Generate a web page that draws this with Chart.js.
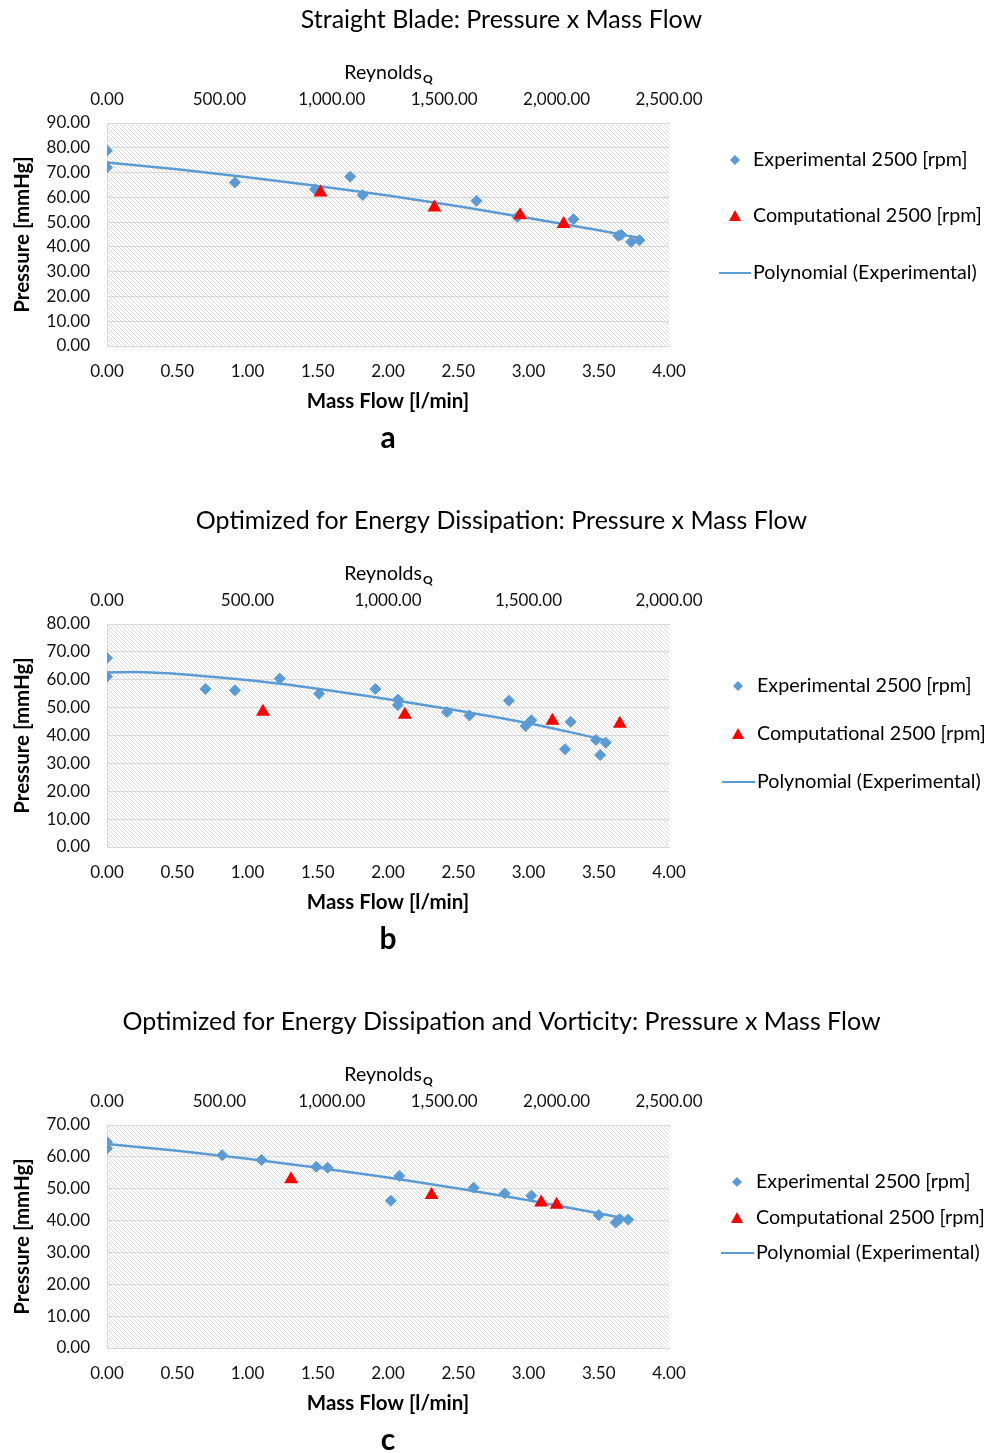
<!DOCTYPE html>
<html lang="en">
<head>
<meta charset="UTF-8">
<title>Pressure x Mass Flow</title>
<script src="https://cdn.jsdelivr.net/npm/chart.js@4"></script>
<style>
  body { margin: 0; background: #fff; }
  .box { position: absolute; left: 0; width: 1003px; }
  canvas { display: block; }
</style>
</head>
<body>
<div class="box" style="top:0;height:501px"><canvas id="chartA"></canvas></div>
<div class="box" style="top:501px;height:501px"><canvas id="chartB"></canvas></div>
<div class="box" style="top:1002px;height:451px"><canvas id="chartC"></canvas></div>

<script>
// ---- values ----
const seriesNames = ['Experimental 2500 [rpm]', 'Computational 2500 [rpm]', 'Polynomial (Experimental)'];

// (a) straight blade
const straightExpFlow      = [0.00, 0.00, 0.91, 1.48, 1.73, 1.82, 2.63, 2.92, 3.32, 3.64, 3.66, 3.73, 3.79];
const straightExpPressure  = [78.8, 72.1, 66.0, 63.3, 68.3, 60.9, 58.6, 52.1, 51.2, 44.5, 44.9, 42.0, 42.7];
const straightCompFlow     = [1.52, 2.33, 2.94, 3.25];
const straightCompPressure = [62.0, 55.9, 52.8, 49.2];
const straightTrendFlow     = [0.00, 0.50, 1.00, 1.50, 2.00, 2.50, 3.00, 3.50, 3.79];
const straightTrendPressure = [74.1, 71.3, 68.1, 64.6, 60.7, 56.4, 51.7, 46.7, 43.6];

// (b) optimized for energy dissipation
const energyExpFlow      = [0.00, 0.00, 0.70, 0.91, 1.23, 1.51, 1.91, 2.07, 2.07, 2.42, 2.58, 2.86, 2.98, 3.02, 3.26, 3.30, 3.48, 3.51, 3.55];
const energyExpPressure  = [67.8, 61.2, 56.7, 56.2, 60.4, 55.0, 56.7, 52.9, 50.9, 48.4, 47.2, 52.5, 43.4, 45.5, 35.1, 44.9, 38.4, 33.0, 37.4];
const energyCompFlow     = [1.11, 2.12, 3.17, 3.65];
const energyCompPressure = [48.5, 47.4, 45.3, 44.2];
const energyTrendFlow     = [0.00, 0.20, 0.50, 0.90, 1.25, 1.50, 1.90, 2.40, 2.98, 3.28, 3.54];
const energyTrendPressure = [62.6, 62.8, 62.1, 60.4, 58.5, 56.8, 53.8, 49.8, 44.6, 41.4, 38.4];

// (c) optimized for energy dissipation and vorticity
const vortExpFlow      = [0.00, 0.00, 0.82, 1.10, 1.49, 1.57, 2.08, 2.02, 2.61, 2.83, 3.02, 3.50, 3.62, 3.65, 3.71];
const vortExpPressure  = [64.7, 62.6, 60.5, 59.0, 56.9, 56.6, 54.0, 46.2, 50.3, 48.5, 47.8, 41.7, 39.4, 40.5, 40.3];
const vortCompFlow     = [1.31, 2.31, 3.09, 3.20];
const vortCompPressure = [53.0, 48.0, 45.7, 45.0];
const vortTrendFlow     = [0.00, 0.50, 1.00, 1.50, 2.00, 2.50, 3.00, 3.50, 3.71];
const vortTrendPressure = [64.0, 61.9, 59.4, 56.6, 53.5, 50.1, 46.4, 42.3, 40.4];

// axis ranges / labels
const chartTitles  = ['Straight Blade: Pressure x Mass Flow',
                      'Optimized for Energy Dissipation: Pressure x Mass Flow',
                      'Optimized for Energy Dissipation and Vorticity: Pressure x Mass Flow'];
const panelLetters = ['a', 'b', 'c'];
const pressureMax  = [90, 80, 70];
const reynoldsMax  = [2500, 2000, 2500];

const BLUE = '#5b9bd5';
const RED = '#ff0000';
const GRID = '#d9d9d9';
Chart.defaults.font.family = 'Lato';
Chart.defaults.color = '#111';

function pts(xs, ys) {
  return xs.map((x, i) => ({ x: x, y: ys[i] }));
}

// light diagonal hatch behind the plot, like the excel plot area
const hatchPlugin = {
  id: 'hatch',
  beforeDraw(chart) {
    const { ctx, chartArea: a } = chart;
    const tile = document.createElement('canvas');
    tile.width = 4; tile.height = 4;
    const g = tile.getContext('2d');
    g.fillStyle = '#ffffff';
    g.fillRect(0, 0, 4, 4);
    g.fillStyle = '#dadada';
    for (let i = 0; i < 4; i++) g.fillRect(i, i, 1, 1);
    ctx.save();
    ctx.fillStyle = ctx.createPattern(tile, 'repeat');
    ctx.fillRect(a.left, a.top, a.right - a.left, a.bottom - a.top);
    ctx.restore();
  }
};

// "Reynolds" with subscript Q above the secondary axis
const reynoldsPlugin = {
  id: 'reynolds',
  afterDraw(chart) {
    const { ctx, chartArea: a } = chart;
    ctx.save();
    ctx.fillStyle = '#000';
    ctx.textBaseline = 'middle';
    ctx.font = '19.5px Lato';
    const w1 = ctx.measureText('Reynolds').width;
    ctx.font = 'bold 12px Lato';
    const w2 = ctx.measureText('Q').width;
    const x0 = (a.left + a.right) / 2 - (w1 + w2) / 2;
    const y = a.top - 50;
    ctx.font = '19.5px Lato';
    ctx.fillText('Reynolds', x0, y);
    ctx.font = 'bold 12px Lato';
    ctx.fillText('Q', x0 + w1 + 1, y + 6);
    ctx.restore();
  }
};

// legend on the right, drawn by hand so the plot area keeps its size
const sideLegend = {
  id: 'sideLegend',
  afterDraw(chart, args, opts) {
    const { ctx } = chart;
    ctx.save();
    ctx.font = '19.7px Lato';
    ctx.textBaseline = 'middle';
    const mx = opts.markerX, tx = opts.textX, r = opts.rows;
    // diamond
    ctx.fillStyle = BLUE;
    ctx.beginPath();
    ctx.moveTo(mx - 5, r[0]); ctx.lineTo(mx, r[0] - 5); ctx.lineTo(mx + 5, r[0]); ctx.lineTo(mx, r[0] + 5);
    ctx.closePath(); ctx.fill();
    // triangle
    ctx.fillStyle = RED;
    ctx.beginPath();
    ctx.moveTo(mx, r[1] - 6); ctx.lineTo(mx + 6, r[1] + 5); ctx.lineTo(mx - 6, r[1] + 5);
    ctx.closePath(); ctx.fill();
    // line
    ctx.strokeStyle = BLUE; ctx.lineWidth = 2;
    ctx.beginPath(); ctx.moveTo(mx - 16, r[2]); ctx.lineTo(tx - 2, r[2]); ctx.stroke();
    ctx.fillStyle = '#000';
    seriesNames.forEach((s, i) => ctx.fillText(s, tx, r[i]));
    ctx.restore();
  }
};

function makeChart(id, idx, exp, comp, trend, legendPos, bottomPad) {
  return new Chart(document.getElementById(id), {
    type: 'scatter',
    data: {
      datasets: [
        {
          label: seriesNames[2], data: trend, showLine: true, pointRadius: 0,
          borderColor: BLUE, borderWidth: 2.5, cubicInterpolationMode: 'monotone', order: 3
        },
        {
          label: seriesNames[0], data: exp, pointStyle: 'rectRot', pointRadius: 5.5,
          backgroundColor: BLUE, borderColor: BLUE, borderWidth: 1, order: 2
        },
        {
          label: seriesNames[1], data: comp, pointStyle: 'triangle', pointRadius: 8,
          backgroundColor: RED, borderColor: RED, borderWidth: 0, order: 1
        }
      ]
    },
    options: {
      responsive: true,
      maintainAspectRatio: false,
      animation: false,
      layout: { padding: { top: 0, left: 0, right: 0, bottom: bottomPad } },
      plugins: {
        legend: { display: false },
        tooltip: { enabled: false },
        title: {
          display: true, text: chartTitles[idx], color: '#000',
          font: { size: 25, weight: 'normal' }, padding: { top: 5, bottom: 0 }
        },
        subtitle: {
          display: true, position: 'bottom', fullSize: false, text: panelLetters[idx], color: '#000',
          font: { size: 30, weight: 'bold', lineHeight: 0.8 }, padding: { top: 12, bottom: 0 }
        },
        sideLegend: legendPos
      },
      scales: {
        x: {
          type: 'linear', position: 'bottom', min: 0, max: 4,
          grid: { display: false, drawTicks: false, tickLength: 0 },
          border: { display: true, color: GRID },
          ticks: { stepSize: 0.5, padding: 15, font: { size: 17 }, callback: v => v.toFixed(2) },
          title: { display: true, text: 'Mass Flow [l/min]', color: '#000', font: { size: 20.5, weight: 'bold' }, padding: 0 },
          afterFit(s) { s.height = 68; }
        },
        x2: {
          type: 'linear', axis: 'x', position: 'top', min: 0, max: reynoldsMax[idx],
          grid: { display: false, drawTicks: false, tickLength: 0 },
          border: { display: true, color: GRID },
          ticks: {
            stepSize: 500, padding: 13, font: { size: 17 },
            callback: v => v.toLocaleString('en-US', { minimumFractionDigits: 2, maximumFractionDigits: 2 })
          },
          afterFit(s) { s.height = 88; }
        },
        y: {
          type: 'linear', position: 'left', min: 0, max: pressureMax[idx],
          grid: { color: GRID, lineWidth: 1, drawTicks: false },
          border: { display: true, color: GRID },
          ticks: { stepSize: 10, padding: 17, font: { size: 17 }, callback: v => v.toFixed(2) },
          title: { display: true, text: 'Pressure [mmHg]', color: '#000', font: { size: 20.5, weight: 'bold' }, padding: { top: 10, bottom: 0 } },
          afterFit(s) { s.width = 107; }
        },
        spacer: {
          type: 'linear', axis: 'y', position: 'right',
          grid: { display: false }, border: { display: false }, ticks: { display: false },
          afterFit(s) { s.width = 334; }
        }
      }
    },
    plugins: [hatchPlugin, reynoldsPlugin, sideLegend]
  });
}

makeChart('chartA', 0,
  pts(straightExpFlow, straightExpPressure), pts(straightCompFlow, straightCompPressure),
  pts(straightTrendFlow, straightTrendPressure),
  { markerX: 735, textX: 753, rows: [160, 216, 273] }, 51);

makeChart('chartB', 1,
  pts(energyExpFlow, energyExpPressure), pts(energyCompFlow, energyCompPressure),
  pts(energyTrendFlow, energyTrendPressure),
  { markerX: 738, textX: 757, rows: [185, 233, 281] }, 51);

makeChart('chartC', 2,
  pts(vortExpFlow, vortExpPressure), pts(vortCompFlow, vortCompPressure),
  pts(vortTrendFlow, vortTrendPressure),
  { markerX: 737, textX: 756, rows: [180, 216, 251] }, 1);
</script>
</body>
</html>
